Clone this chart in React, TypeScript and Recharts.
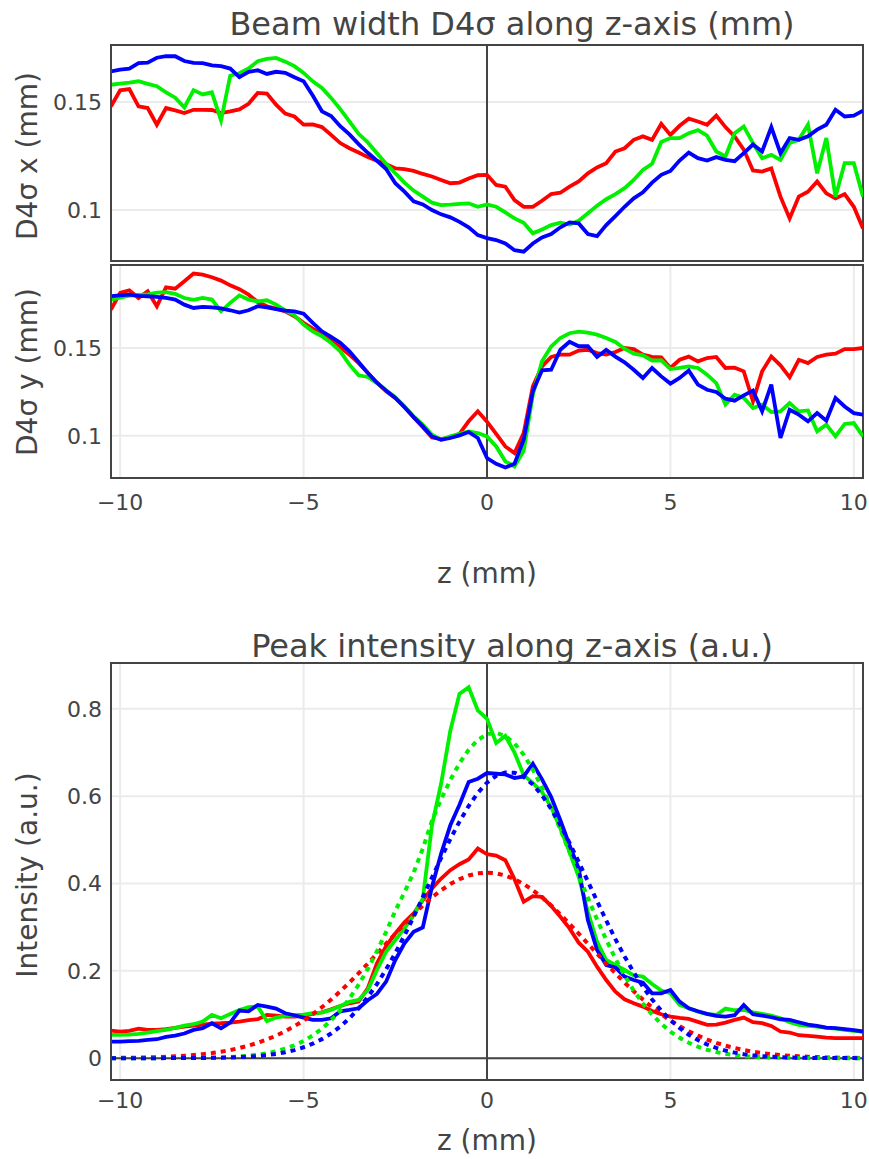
import React from 'react';
import { LineChart, Line, XAxis, YAxis, CartesianGrid, ReferenceLine, ReferenceArea } from 'recharts';

// z positions (mm)
const zGrid = [
  -10.25, -10, -9.75, -9.5, -9.25, -9, -8.75, -8.5, -8.25, -8, -7.75, -7.5, -7.25, -7, -6.75, -6.5, -6.25, -6,
  -5.75, -5.5, -5.25, -5, -4.75, -4.5, -4.25, -4, -3.75, -3.5, -3.25, -3, -2.75, -2.5, -2.25, -2, -1.75, -1.5,
  -1.25, -1, -0.75, -0.5, -0.25, 0,
  0.25, 0.5, 0.75, 1, 1.25, 1.5, 1.75, 2, 2.25, 2.5, 2.75, 3, 3.25, 3.5, 3.75, 4, 4.25, 4.5, 4.75, 5, 5.25, 5.5,
  5.75, 6, 6.25, 6.5, 6.75, 7, 7.25, 7.5, 7.75, 8, 8.25, 8.5, 8.75, 9, 9.25, 9.5, 9.75, 10, 10.25,
];
const zTicks = [-10, -5, 0, 5, 10];
const widthTicks = [0.1, 0.15];
const intensityTicks = [0, 0.2, 0.4, 0.6, 0.8];

// Beam width D4σ x (mm)
const redX = [
  0.148, 0.1554, 0.156, 0.148, 0.1472, 0.1395, 0.1472, 0.1461, 0.1449, 0.1464, 0.1464, 0.1463, 0.1449, 0.1457,
  0.1466, 0.1492, 0.1542, 0.1539, 0.1488, 0.1446, 0.1433, 0.1395, 0.1396, 0.1384, 0.1348, 0.131, 0.1286, 0.1266,
  0.1245, 0.1228, 0.1212, 0.1193, 0.1189, 0.1181, 0.1167, 0.1155, 0.1139, 0.1124, 0.1127, 0.1146, 0.1161, 0.1163,
  0.1116, 0.1108, 0.1046, 0.1015, 0.1015, 0.1043, 0.1074, 0.108, 0.1108, 0.1132, 0.117, 0.1197, 0.1217, 0.1271,
  0.1286, 0.1325, 0.1341, 0.1325, 0.1399, 0.1348, 0.139, 0.1423, 0.141, 0.1395, 0.1437, 0.1384, 0.1341, 0.1279,
  0.1183, 0.1178, 0.1193, 0.1062, 0.0961, 0.1062, 0.1085, 0.1132, 0.1077, 0.1054, 0.1074, 0.1015, 0.0915,
];
const greenX = [
  0.158, 0.1585, 0.159, 0.1596, 0.1584, 0.1573, 0.1545, 0.152, 0.1475, 0.1555, 0.1535, 0.1545, 0.1415, 0.1622,
  0.1633, 0.1655, 0.1689, 0.17, 0.1704, 0.1687, 0.1666, 0.1635, 0.1596, 0.1565, 0.1519, 0.1467, 0.141, 0.1353,
  0.1313, 0.1263, 0.1214, 0.117, 0.1127, 0.109, 0.1062, 0.1034, 0.1023, 0.1025, 0.1028, 0.1031, 0.1015, 0.1026,
  0.1015, 0.0989, 0.0961, 0.0941, 0.0892, 0.091, 0.093, 0.0941, 0.0933, 0.095, 0.0985, 0.102, 0.105, 0.1074,
  0.1101, 0.1139, 0.1186, 0.1214, 0.1315, 0.1333, 0.1333, 0.1356, 0.137, 0.1344, 0.1271, 0.1248, 0.1356, 0.1387,
  0.131, 0.124, 0.1255, 0.1232, 0.131, 0.1325, 0.1395, 0.117, 0.1333, 0.1062, 0.1217, 0.1217, 0.1062,
];
const blueX = [
  0.1642, 0.165, 0.1655, 0.168, 0.1682, 0.1705, 0.1712, 0.1712, 0.169, 0.1681, 0.168, 0.167, 0.1666, 0.1655,
  0.1615, 0.164, 0.1647, 0.163, 0.164, 0.1635, 0.1615, 0.1596, 0.153, 0.1457, 0.1435, 0.1388, 0.135, 0.1305,
  0.1265, 0.1228, 0.119, 0.1124, 0.1085, 0.104, 0.1026, 0.1, 0.098, 0.0966, 0.0945, 0.092, 0.0884, 0.087,
  0.0861, 0.0845, 0.0814, 0.0807, 0.0845, 0.0873, 0.0889, 0.092, 0.0943, 0.0938, 0.0889, 0.0879, 0.093, 0.0972,
  0.1015, 0.1054, 0.1082, 0.1127, 0.1163, 0.1181, 0.1229, 0.1266, 0.124, 0.1229, 0.1245, 0.1232, 0.1226, 0.1263,
  0.1303, 0.1271, 0.1384, 0.1263, 0.1333, 0.1325, 0.1341, 0.1372, 0.1395, 0.1464, 0.1433, 0.1437, 0.146,
];

// Beam width D4σ y (mm)
const redY = [
  0.1719, 0.1814, 0.1829, 0.1785, 0.1823, 0.1738, 0.1846, 0.1838, 0.188, 0.1924, 0.1918, 0.1903, 0.1884, 0.1857,
  0.1835, 0.1804, 0.1762, 0.1738, 0.1724, 0.1709, 0.1681, 0.1643, 0.161, 0.158, 0.1548, 0.1504, 0.1462, 0.1414,
  0.1359, 0.1302, 0.1253, 0.1215, 0.1165, 0.1105, 0.1048, 0.099, 0.0981, 0.099, 0.1011, 0.1082, 0.1139, 0.108,
  0.101, 0.0939, 0.0901, 0.1015, 0.1281, 0.1395, 0.1449, 0.1462, 0.1462, 0.1485, 0.149, 0.1471, 0.1462, 0.1477,
  0.15, 0.1494, 0.1462, 0.1449, 0.1447, 0.1386, 0.1433, 0.1451, 0.1424, 0.1443, 0.1449, 0.1386, 0.1388, 0.1367,
  0.1196, 0.1367, 0.1452, 0.1401, 0.1333, 0.1433, 0.1414, 0.1449, 0.1462, 0.1468, 0.1494, 0.1494, 0.15,
];
const greenY = [
  0.1776, 0.1787, 0.1798, 0.1802, 0.1806, 0.1816, 0.1818, 0.1808, 0.1785, 0.1774, 0.1785, 0.1776, 0.1709, 0.1757,
  0.18, 0.1776, 0.1766, 0.1772, 0.1747, 0.1715, 0.1686, 0.1633, 0.1595, 0.1567, 0.1529, 0.1481, 0.1405, 0.1344,
  0.1335, 0.13, 0.1259, 0.1219, 0.1167, 0.111, 0.1063, 0.1006, 0.0977, 0.0996, 0.1011, 0.1025, 0.1015, 0.0996,
  0.0939, 0.0854, 0.0825, 0.0914, 0.1234, 0.1424, 0.1508, 0.1557, 0.1584, 0.1593, 0.1587, 0.1576, 0.1557, 0.1534,
  0.1496, 0.1468, 0.1458, 0.1428, 0.143, 0.138, 0.1386, 0.1395, 0.1386, 0.1348, 0.13, 0.1177, 0.1234, 0.1215,
  0.1158, 0.1177, 0.1135, 0.1139, 0.1186, 0.1139, 0.1144, 0.1025, 0.1063, 0.0996, 0.1067, 0.1072, 0.0996,
];
const blueY = [
  0.1795, 0.18, 0.1804, 0.1797, 0.1795, 0.1791, 0.1785, 0.1776, 0.1747, 0.1728, 0.1734, 0.1732, 0.1726, 0.1715,
  0.1702, 0.1715, 0.1738, 0.1732, 0.1722, 0.1713, 0.1709, 0.1696, 0.1643, 0.1595, 0.1563, 0.153, 0.1481, 0.142,
  0.1357, 0.1302, 0.1257, 0.1215, 0.1163, 0.1106, 0.1053, 0.0996, 0.0977, 0.0987, 0.1002, 0.1021, 0.0987, 0.0873,
  0.084, 0.0819, 0.084, 0.0977, 0.1253, 0.1373, 0.1376, 0.149, 0.1535, 0.151, 0.151, 0.1449, 0.1489, 0.1451,
  0.1418, 0.1376, 0.1329, 0.1386, 0.1338, 0.1297, 0.1329, 0.1371, 0.1291, 0.1262, 0.1249, 0.1211, 0.12, 0.123,
  0.1257, 0.1139, 0.1291, 0.0987, 0.1148, 0.112, 0.1082, 0.1129, 0.1086, 0.1215, 0.1167, 0.1129, 0.112,
];

// Peak intensity (a.u.), measured
const redI = [
  0.0632, 0.061, 0.0625, 0.0678, 0.0648, 0.0648, 0.0663, 0.0693, 0.0724, 0.0747, 0.077, 0.0792, 0.08, 0.0815,
  0.0838, 0.0869, 0.0891, 0.099, 0.0975, 0.0952, 0.0952, 0.0968, 0.1013, 0.1051, 0.112, 0.1196, 0.1257, 0.1295,
  0.16, 0.2171, 0.2568, 0.2857, 0.3109, 0.3314, 0.3619, 0.3886, 0.4114, 0.4305, 0.4442, 0.4549, 0.48, 0.467,
  0.464, 0.4533, 0.4099, 0.3581, 0.371, 0.3695, 0.3482, 0.3238, 0.2971, 0.2644, 0.2438, 0.2095, 0.179, 0.1524,
  0.1349, 0.1257, 0.1181, 0.1082, 0.1006, 0.0952, 0.0922, 0.0899, 0.083, 0.0762, 0.077, 0.0815, 0.0876, 0.093,
  0.0823, 0.08, 0.0739, 0.061, 0.0587, 0.0526, 0.051, 0.0495, 0.0472, 0.0457, 0.0457, 0.0457, 0.0457,
];
const greenI = [
  0.0533, 0.0533, 0.054, 0.0556, 0.0587, 0.0617, 0.0648, 0.0693, 0.0747, 0.0777, 0.0838, 0.099, 0.0914, 0.1013,
  0.1105, 0.1166, 0.1181, 0.085, 0.093, 0.0968, 0.0983, 0.0998, 0.1029, 0.1044, 0.1105, 0.1196, 0.1288, 0.1333,
  0.1562, 0.2019, 0.2438, 0.2705, 0.2971, 0.3276, 0.365, 0.5333, 0.629, 0.75, 0.8343, 0.8495, 0.7962, 0.777,
  0.722, 0.738, 0.7, 0.648, 0.6301, 0.6095, 0.5752, 0.5257, 0.4724, 0.4152, 0.3352, 0.2667, 0.2248, 0.2133,
  0.2019, 0.1897, 0.1867, 0.1699, 0.1547, 0.1486, 0.1219, 0.1143, 0.1067, 0.1006, 0.099, 0.1135, 0.1097, 0.1105,
  0.1051, 0.1013, 0.0975, 0.0914, 0.0823, 0.0762, 0.0739, 0.0724, 0.0693, 0.0678, 0.0648, 0.0625, 0.061,
];
const blueI = [
  0.0381, 0.0381, 0.0389, 0.0396, 0.0419, 0.0434, 0.0488, 0.0518, 0.0564, 0.0648, 0.0686, 0.08, 0.0686, 0.0815,
  0.109, 0.1074, 0.1219, 0.1181, 0.1135, 0.1029, 0.0983, 0.093, 0.0876, 0.0876, 0.0914, 0.1074, 0.1105, 0.1143,
  0.1326, 0.147, 0.1752, 0.2248, 0.2629, 0.2895, 0.2994, 0.3924, 0.4686, 0.5333, 0.5806, 0.6324, 0.64, 0.653,
  0.6514, 0.6499, 0.6415, 0.6453, 0.6743, 0.6385, 0.5981, 0.5448, 0.4876, 0.4343, 0.3162, 0.2476, 0.2133, 0.208,
  0.1867, 0.179, 0.173, 0.1486, 0.1486, 0.1562, 0.1295, 0.1143, 0.1074, 0.1013, 0.0968, 0.0952, 0.0983, 0.1219,
  0.1006, 0.0975, 0.0937, 0.0891, 0.0876, 0.0823, 0.077, 0.0739, 0.0701, 0.0686, 0.0663, 0.064, 0.061,
];

// Peak intensity (a.u.), fitted curves (dotted)
const redFit = [
  0.0005, 0.0007, 0.001, 0.0013, 0.0018, 0.0024, 0.0032, 0.0042, 0.0055, 0.0072, 0.0092, 0.0117, 0.0149, 0.0186,
  0.0232, 0.0287, 0.0351, 0.0427, 0.0515, 0.0617, 0.0732, 0.0862, 0.1007, 0.1167, 0.1342, 0.1531, 0.1732, 0.1945,
  0.2166, 0.2393, 0.2622, 0.2851, 0.3076, 0.3292, 0.3496, 0.3683, 0.3847, 0.3987, 0.41, 0.4183, 0.4233, 0.425,
  0.4233, 0.4183, 0.41, 0.3987, 0.3847, 0.3683, 0.3496, 0.3292, 0.3076, 0.2851, 0.2622, 0.2393, 0.2166, 0.1945,
  0.1732, 0.1531, 0.1342, 0.1167, 0.1007, 0.0862, 0.0732, 0.0617, 0.0515, 0.0427, 0.0351, 0.0287, 0.0232, 0.0186,
  0.0149, 0.0117, 0.0092, 0.0072, 0.0055, 0.0042, 0.0032, 0.0024, 0.0018, 0.0013, 0.001, 0.0007, 0.0005,
];
const greenFit = [
  0, 0, 0, 0, 0, 0.0001, 0.0001, 0.0002, 0.0003, 0.0005, 0.0008, 0.0012, 0.0018, 0.0027,
  0.0039, 0.0057, 0.0081, 0.0114, 0.0159, 0.0218, 0.0295, 0.0394, 0.0519, 0.0675, 0.0866, 0.1095, 0.1367, 0.1682,
  0.2043, 0.2448, 0.2893, 0.3373, 0.38, 0.425, 0.48, 0.5441, 0.5928, 0.637, 0.6754, 0.7063, 0.7288, 0.7418,
  0.745, 0.7377, 0.7209, 0.6949, 0.6608, 0.6199, 0.5737, 0.5236, 0.4713, 0.4188, 0.3673, 0.3177, 0.2711, 0.228,
  0.1893, 0.1549, 0.1253, 0.0998, 0.0785, 0.0609, 0.0466, 0.0352, 0.0262, 0.0192, 0.014, 0.01, 0.007, 0.0049,
  0.0033, 0.0022, 0.0015, 0.001, 0.0006, 0.0004, 0.0002, 0.0001, 0.0001, 0, 0, 0, 0,
];
const blueFit = [
  0, 0, 0, 0, 0, 0, 0.0001, 0.0001, 0.0002, 0.0003, 0.0005, 0.0007, 0.0011, 0.0016,
  0.0024, 0.0034, 0.0049, 0.007, 0.0098, 0.0136, 0.0185, 0.025, 0.0333, 0.0436, 0.0565, 0.0723, 0.0912, 0.1137,
  0.1399, 0.1698, 0.2035, 0.2407, 0.281, 0.3239, 0.3686, 0.4138, 0.4585, 0.5017, 0.5417, 0.5775, 0.6075, 0.6309,
  0.6467, 0.6543, 0.6535, 0.6442, 0.6268, 0.602, 0.5707, 0.5341, 0.4932, 0.4497, 0.4047, 0.36, 0.3152, 0.2727,
  0.233, 0.1965, 0.1635, 0.1343, 0.1089, 0.0871, 0.069, 0.0537, 0.0414, 0.0314, 0.0235, 0.0174, 0.0127, 0.0092,
  0.0066, 0.0046, 0.0032, 0.0022, 0.0015, 0.001, 0.0007, 0.0004, 0.0003, 0.0002, 0.0001, 0.0001, 0,
];

const rowsX = zGrid.map((z, i) => ({ z, r: redX[i], g: greenX[i], b: blueX[i] }));
const rowsY = zGrid.map((z, i) => ({ z, r: redY[i], g: greenY[i], b: blueY[i] }));
const rowsI = zGrid.map((z, i) => ({
  z, r: redI[i], g: greenI[i], b: blueI[i], rf: redFit[i], gf: greenFit[i], bf: blueFit[i],
}));

const W = 869;
const PLOT_LEFT = 111;
const PLOT_RIGHT = 863;
const FONT = "'DejaVu Sans', Verdana, sans-serif";
const TEXT = '#444';
const RED = '#ff0000';
const GREEN = '#00f000';
const BLUE = '#0000ff';
const X_DOMAIN: [number, number] = [-10.25, 10.25];

const fmt = (v: number) => (v < 0 ? '\u2212' + Math.abs(v) : String(v));
const tickStyle = { fontSize: 22, fill: TEXT, fontFamily: FONT };
const frame = { stroke: '#444', strokeWidth: 2 };

type Series = { key: string; color: string; dotted?: boolean };

function Panel(props: {
  plotTop: number;
  plotBottom: number;
  chartHeight: number;
  data: any[];
  yDomain: [number, number];
  yTicks: number[];
  yFmt: (v: number) => string;
  showX: boolean;
  tickGap: number;
  series: Series[];
  zeroY?: boolean;
}) {
  const { plotTop, plotBottom, chartHeight, data, yDomain, yTicks, yFmt, showX, tickGap, series, zeroY } = props;
  const xh = showX ? 40 : 0;
  return (
    <div style={{ position: 'absolute', left: 0, top: 0 }}>
      <LineChart
        width={W}
        height={chartHeight}
        data={data}
        margin={{ top: plotTop, right: W - PLOT_RIGHT, left: 0, bottom: chartHeight - plotBottom - xh }}
      >
        <CartesianGrid stroke="#ebebeb" strokeWidth={2} />
        <XAxis
          dataKey="z"
          type="number"
          domain={X_DOMAIN}
          allowDataOverflow
          ticks={zTicks}
          interval={0}
          tickFormatter={fmt}
          tick={showX ? tickStyle : false}
          tickLine={false}
          tickSize={0}
          tickMargin={tickGap}
          height={xh}
          axisLine={frame}
        />
        <YAxis
          type="number"
          domain={yDomain}
          allowDataOverflow
          ticks={yTicks}
          interval={0}
          tickFormatter={yFmt}
          tick={tickStyle}
          tickLine={false}
          tickSize={0}
          tickMargin={9}
          width={PLOT_LEFT}
          axisLine={frame}
        />
        <ReferenceLine x={0} stroke="#444" strokeWidth={2} />
        {zeroY ? <ReferenceLine y={0} stroke="#444" strokeWidth={2} /> : null}
        {series.map((s) => (
          <Line
            key={s.key}
            type="linear"
            dataKey={s.key}
            stroke={s.color}
            strokeWidth={s.dotted ? 4 : 3.8}
            strokeDasharray={s.dotted ? '5 5' : undefined}
            dot={false}
            activeDot={false}
            isAnimationActive={false}
          />
        ))}
        <ReferenceArea
          x1={X_DOMAIN[0]}
          x2={X_DOMAIN[1]}
          y1={yDomain[0]}
          y2={yDomain[1]}
          fill="none"
          fillOpacity={0}
          stroke="#444"
          strokeWidth={2}
          ifOverflow="visible"
        />
      </LineChart>
    </div>
  );
}

const widthSeries: Series[] = [
  { key: 'r', color: RED },
  { key: 'g', color: GREEN },
  { key: 'b', color: BLUE },
];
const intensitySeries: Series[] = [
  { key: 'r', color: RED },
  { key: 'g', color: GREEN },
  { key: 'b', color: BLUE },
  { key: 'rf', color: RED, dotted: true },
  { key: 'gf', color: GREEN, dotted: true },
  { key: 'bf', color: BLUE, dotted: true },
];

export default function App() {
  return (
    <div
      style={{
        position: 'absolute',
        left: 0,
        top: 0,
        width: W,
        height: 1159,
        background: '#fff',
        fontFamily: FONT,
        overflow: 'hidden',
      }}
    >
      <Panel
        plotTop={45}
        plotBottom={261}
        chartHeight={262}
        data={rowsX}
        yDomain={[0.0764, 0.1764]}
        yTicks={widthTicks}
        yFmt={(v) => String(v)}
        showX={false}
        tickGap={0}
        series={widthSeries}
      />
      <Panel
        plotTop={265}
        plotBottom={478}
        chartHeight={530}
        data={rowsY}
        yDomain={[0.0759, 0.1973]}
        yTicks={widthTicks}
        yFmt={(v) => String(v)}
        showX={true}
        tickGap={16}
        series={widthSeries}
      />
      <Panel
        plotTop={663}
        plotBottom={1080}
        chartHeight={1159}
        data={rowsI}
        yDomain={[-0.05, 0.905]}
        yTicks={intensityTicks}
        yFmt={(v) => String(v)}
        showX={true}
        tickGap={12}
        series={intensitySeries}
        zeroY
      />
      <svg
        width={W}
        height={1159}
        style={{ position: 'absolute', left: 0, top: 0, pointerEvents: 'none' }}
        fontFamily={FONT}
        fill={TEXT}
      >
        <text x={512} y={35} fontSize={32} textAnchor="middle">Beam width D4σ along z-axis (mm)</text>
        <text x={37} y={156} fontSize={28} textAnchor="middle" transform="rotate(-90 37 156)">D4σ x (mm)</text>
        <text x={37} y={372} fontSize={28} textAnchor="middle" transform="rotate(-90 37 372)">D4σ y (mm)</text>
        <text x={487} y={583} fontSize={28} textAnchor="middle">z (mm)</text>
        <text x={512} y={657} fontSize={32} textAnchor="middle">Peak intensity along z-axis (a.u.)</text>
        <text x={37} y={875} fontSize={28} textAnchor="middle" transform="rotate(-90 37 875)">Intensity (a.u.)</text>
        <text x={487} y={1150} fontSize={28} textAnchor="middle">z (mm)</text>
      </svg>
    </div>
  );
}
